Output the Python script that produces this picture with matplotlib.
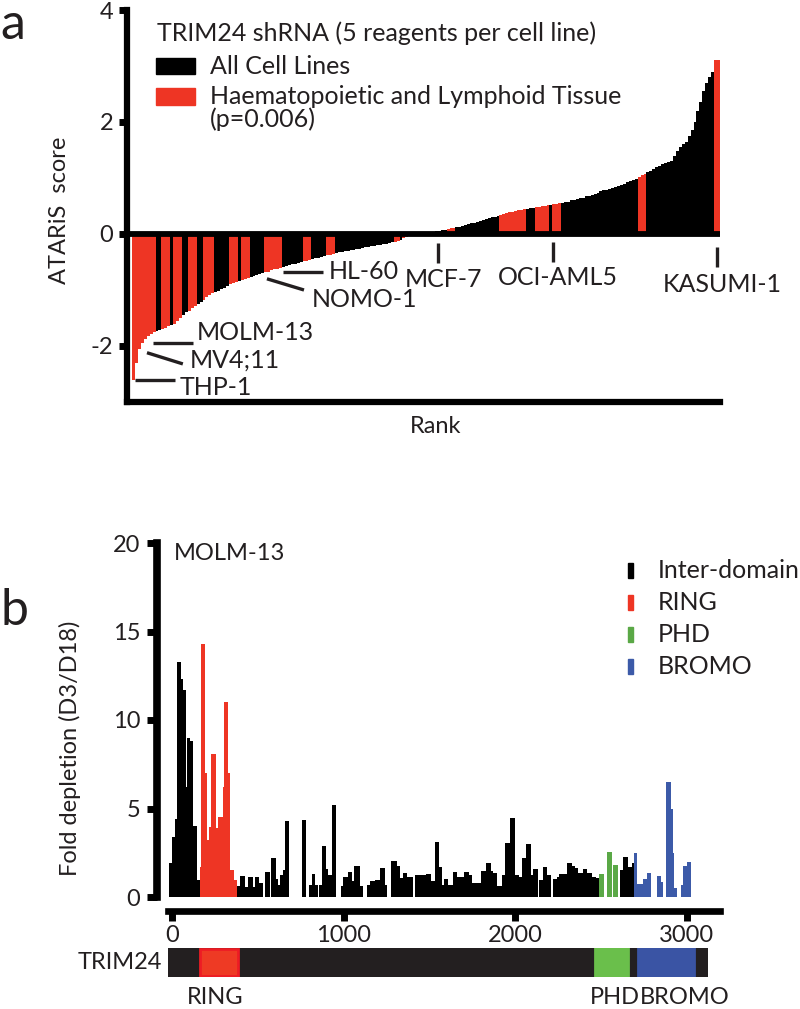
import numpy as np
import matplotlib.pyplot as plt
from matplotlib.patches import Rectangle

plt.rcParams['font.family'] = ['Lato', 'DejaVu Sans']
plt.rcParams['axes.unicode_minus'] = False

W, H = 800, 1009
TXT = '#231f20'
RED = '#ee3524'
GREEN = '#5aa846'
BLUE = '#3c5aa8'


def fx(px):
    return px / W


def fy(py):
    return 1 - py / H


# ---- panel a: ATARiS score of every cell line, in rank order ----
ataris_scores = [
    -2.6, -2.3, -2.05, -1.95, -1.87, -1.82, -1.78, -1.75, -1.73, -1.71,
    -1.69, -1.67, -1.65, -1.63, -1.6, -1.55, -1.5, -1.45, -1.4, -1.37,
    -1.33, -1.29, -1.25, -1.21, -1.17, -1.12, -1.09, -1.06, -1.03, -1.01,
    -0.99, -0.96, -0.93, -0.9, -0.88, -0.86, -0.84, -0.82, -0.8, -0.78,
    -0.77, -0.75, -0.73, -0.71, -0.7, -0.68, -0.67, -0.65, -0.63, -0.62,
    -0.6, -0.59, -0.57, -0.56, -0.54, -0.53, -0.52, -0.5, -0.49, -0.48,
    -0.46, -0.45, -0.43, -0.42, -0.41, -0.39, -0.38, -0.37, -0.35, -0.34,
    -0.33, -0.32, -0.31, -0.3, -0.29, -0.28, -0.27, -0.26, -0.25, -0.24,
    -0.23, -0.22, -0.21, -0.2, -0.19, -0.18, -0.17, -0.16, -0.15, -0.14,
    -0.12, -0.1, -0.08, -0.06, -0.04, -0.03, -0.02, -0.01, 0.0, 0.01,
    0.02, 0.03, 0.04, 0.05, 0.06, 0.07, 0.08, 0.09, 0.1, 0.11,
    0.12, 0.13, 0.14, 0.16, 0.17, 0.19, 0.2, 0.22, 0.23, 0.25,
    0.26, 0.28, 0.3, 0.31, 0.33, 0.34, 0.36, 0.37, 0.39, 0.4,
    0.41, 0.42, 0.43, 0.44, 0.45, 0.46, 0.47, 0.48, 0.49, 0.5,
    0.5, 0.51, 0.52, 0.53, 0.54, 0.55, 0.56, 0.57, 0.58, 0.6,
    0.61, 0.62, 0.64, 0.65, 0.67, 0.68, 0.7, 0.72, 0.74, 0.76,
    0.78, 0.79, 0.8, 0.82, 0.84, 0.86, 0.88, 0.9, 0.92, 0.94,
    0.96, 0.99, 1.02, 1.05, 1.08, 1.1, 1.13, 1.16, 1.19, 1.22,
    1.25, 1.26, 1.28, 1.3, 1.4, 1.48, 1.55, 1.6, 1.65, 1.75,
    1.85, 2.0, 2.2, 2.35, 2.55, 2.7, 2.8, 2.9, 3.1, 3.1,
]
# ranks of haematopoietic / lymphoid lines
heme_ranks = [0, 1, 2, 3, 4, 5, 6, 7, 10, 11, 12, 14, 15, 16, 19, 20, 21,
              24, 25, 26, 27, 33, 34, 35, 37, 38, 39, 45, 46, 47, 48, 49, 50,
              58, 59, 60, 66, 67, 68, 89, 90, 92, 93, 94, 107, 108, 109,
              125, 126, 127, 128, 129, 130, 131, 132, 133, 137, 138, 139, 140,
              141, 143, 144, 145, 172, 173, 174, 198, 199]
ticks_a = [-2, 0, 2, 4]

# ---- panel b: fold depletion along the TRIM24 transcript ----
inter_edges = [-15, 0, 18, 27, 51, 66, 81, 86, 106, 121, 145, 162, 380, 398,
               424, 442, 472, 482, 508, 532, 540, 570, 580, 606, 618, 630, 647,
               659, 684, 756, 780, 797, 814, 834, 854, 858, 873, 898, 912, 931,
               958, 983, 997, 1028, 1050, 1064, 1096, 1116, 1136, 1155, 1184,
               1213, 1242, 1254, 1278, 1310, 1330, 1349, 1370, 1403, 1416, 1446,
               1480, 1510, 1534, 1554, 1572, 1586, 1611, 1636, 1664, 1703, 1732,
               1747, 1800, 1829, 1862, 1874, 1897, 1922, 1942, 1971, 2000, 2025,
               2039, 2064, 2091, 2103, 2136, 2142, 2165, 2189, 2210, 2220, 2243,
               2258, 2305, 2330, 2350, 2369, 2395, 2422, 2447, 2472, 2492, 2612,
               2632, 2657, 2680, 2692]
inter_fold = [1.9, 3.4, 4.4, 13.3, 12.3, 11.7, 6.2, 9.0, 8.8, 4.0, 0.95, 0,
              0.6, 1.17, 0.57, 1.13, 0.57, 1.15, 0.8, 0, 1.42, 0, 2.2, 1.0, 0.65,
              1.22, 1.5, 4.3, 0, 4.35, 0, 0.68, 1.3, 0.68, 0, 0.65, 2.88, 1.6,
              1.25, 5.22, 0, 0.6, 1.15, 1.4, 0.93, 1.75, 0.6, 0, 0.7, 0.93, 0.97,
              1.63, 0.65, 0, 2.03, 1.73, 1.05, 1.35, 1.12, 0, 1.27, 1.23, 1.32,
              0.93, 3.12, 1.7, 0.7, 1.0, 0.68, 1.43, 1.15, 1.43, 1.24, 0.77,
              1.49, 1.9, 1.45, 1.38, 0.62, 1.24, 3.03, 4.44, 1.24, 1.11, 2.18,
              2.98, 1.24, 1.56, 0, 0.96, 1.68, 1.24, 0, 1.04, 1.15, 1.3, 1.94,
              1.75, 1.62, 1.34, 1.56, 1.34, 1.15, 1.05, 0, 1.53, 2.28, 1.71, 1.9]
ring_edges = [162, 167, 192, 204, 218, 227, 255, 270, 297, 305, 328, 340, 362, 380]
ring_fold = [1.7, 14.3, 7.0, 3.2, 3.95, 8.1, 3.9, 4.5, 6.2, 11.0, 7.0, 1.5, 0.95]
phd_edges = [2492, 2521, 2534, 2564, 2573, 2602]
phd_fold = [1.3, 0, 2.56, 0, 1.81]
bromo_edges = [2692, 2713, 2748, 2768, 2791, 2826, 2849, 2865, 2880, 2910,
               2923, 2929, 2943, 2966, 2981, 3001, 3026]
bromo_fold = [2.47, 0.73, 1.0, 1.34, 0, 1.2, 0.87, 0, 6.5, 5.0, 2.47, 0.49, 0,
              0.68, 1.75, 2.0]
ticks_b_y = [0, 5, 10, 15, 20]
ticks_b_x = [0, 1000, 2000, 3000]

# protein map (transcript coordinates)
trim24_span = (-23, 3125)
domain_names = ['RING', 'PHD', 'BROMO']
domain_start = [163, 2466, 2717]
domain_end = [385, 2659, 3044]
domain_fill = ['#ee3a24', '#6abf4b', '#3a54a4']

fig = plt.figure(figsize=(8, 10.09), dpi=100)

# ================= panel a =================
ax = fig.add_axes([fx(127), fy(402), (720 - 127) / W, (402 - 10) / H])
scores = np.array(ataris_scores)
rank_edges = np.arange(len(scores) + 1) - 0.5
heme_mask = np.isin(np.arange(len(scores)), heme_ranks)
ax.stairs(scores, rank_edges, fill=True, color='black', lw=0)
ax.stairs(np.where(heme_mask, scores, 0), rank_edges, fill=True, color=RED, lw=0)
ax.plot([-2.2, 199.5], [0, 0], color='black', lw=4.2, solid_capstyle='round', zorder=5)
ax.set_xlim(-2.2, 199.5)
ax.set_ylim(-3, 4)
ax.set_yticks(ticks_a)
ax.set_xticks([])
for s in ['top', 'right']:
    ax.spines[s].set_visible(False)
for s in ['left', 'bottom']:
    ax.spines[s].set_linewidth(4.5)
ax.tick_params(axis='y', length=6, width=5, pad=4, labelsize=17, labelcolor=TXT)
ax.set_ylabel('ATARiS  score', fontsize=17, color=TXT)
ax.yaxis.set_label_coords(-0.096, 0.49)
ax.set_xlabel('Rank', fontsize=17, color=TXT)
ax.xaxis.set_label_coords(0.52, -0.036)

# cell line call-outs (text placed on its baseline)
lw_ann = 2.4
for (x0, y0, x1, y1), (tx, ty, name) in [
        ((0.5, -2.61, 14.1, -2.61), (15.8, -2.88, 'THP-1')),
        ((4.6, -2.12, 16.8, -2.32), (19.2, -2.39, 'MV4;11')),
        ((6.6, -1.95, 20.2, -1.95), (21.6, -1.90, 'MOLM-13')),
        ((45.4, -0.80, 58.0, -1.0), (60.7, -1.30, 'NOMO-1')),
        ((50.9, -0.68, 64.5, -0.68), (66.5, -0.81, 'HL-60'))]:
    ax.plot([x0, x1], [y0, y1], color=TXT, lw=lw_ann, solid_capstyle='butt')
    ax.text(tx, ty, name, fontsize=18, color=TXT, ha='left', va='baseline')
for xl, (ytop, ybot), ty, name in [
        (103.6, (-0.16, -0.52), -0.95, 'MCF-7'),
        (142.7, (-0.14, -0.50), -0.91, 'OCI-AML5'),
        (198.5, (-0.23, -0.59), -1.04, 'KASUMI-1')]:
    ax.plot([xl, xl], [ytop, ybot], color=TXT, lw=lw_ann, solid_capstyle='butt')
    ax.text(xl + 1.7, ty, name, fontsize=18, color=TXT, ha='center', va='baseline')

# legend of panel a
fig.text(fx(157), fy(33), 'TRIM24 shRNA (5 reagents per cell line)', fontsize=18,
         color=TXT, va='center')
fig.add_artist(Rectangle((fx(156), fy(74)), 39 / W, 16 / H, color='black',
                         transform=fig.transFigure))
fig.add_artist(Rectangle((fx(156), fy(105)), 39 / W, 17 / H, color=RED,
                         transform=fig.transFigure))
fig.text(fx(210), fy(66), 'All Cell Lines', fontsize=18, color=TXT, va='center')
fig.text(fx(210), fy(96), 'Haematopoietic and Lymphoid Tissue', fontsize=18,
         color=TXT, va='center')
fig.text(fx(210), fy(119), '(p=0.006)', fontsize=18, color=TXT, va='center')

# ================= panel b =================
bx = fig.add_axes([fx(157), fy(897), (720 - 157) / W, (897 - 543) / H])
bx.stairs(inter_fold, inter_edges, fill=True, color='black', lw=0)
bx.stairs(ring_fold, ring_edges, fill=True, color=RED, lw=0)
bx.stairs(phd_fold, phd_edges, fill=True, color=GREEN, lw=0)
bx.stairs(bromo_fold, bromo_edges, fill=True, color=BLUE, lw=0)
xl_b = ((157 - 172) / 0.1715, (720 - 172) / 0.1715)
bx.set_xlim(*xl_b)
bx.set_ylim(0, 20)
bx.set_yticks(ticks_b_y)
bx.set_xticks(ticks_b_x)
for s in ['top', 'right']:
    bx.spines[s].set_visible(False)
bx.spines['left'].set_linewidth(5.5)
bx.spines['bottom'].set_linewidth(4.8)
bx.spines['left'].set_bounds(0, 20)
bx.spines['bottom'].set_bounds(trim24_span[0], xl_b[1])
bx.spines['bottom'].set_position(('outward', 10))
bx.tick_params(axis='y', length=7, width=5, pad=5, labelsize=17, labelcolor=TXT)
bx.tick_params(axis='x', length=7.5, width=5, pad=3, labelsize=17, labelcolor=TXT)
bx.set_ylabel('Fold depletion (D3/D18)', fontsize=17, color=TXT)
bx.yaxis.set_label_coords(-0.135, 0.42)
bx.text(0.03, 0.97, 'MOLM-13', transform=bx.transAxes, fontsize=17, color=TXT,
        ha='left', va='center')

# legend of panel b
for name, col, yc in [('Inter-domain', 'black', 570), ('RING', RED, 602),
                      ('PHD', GREEN, 634), ('BROMO', BLUE, 666)]:
    fig.add_artist(Rectangle((fx(628), fy(yc + 7.5)), 5 / W, 15 / H, color=col,
                             transform=fig.transFigure))
    fig.text(fx(658), fy(yc), name, fontsize=18, color=TXT, va='center')

# protein map
dx = fig.add_axes([fx(157), fy(977), (720 - 157) / W, 29 / H])
dx.set_xlim(*xl_b)
dx.set_ylim(0, 1)
dx.axis('off')
dx.barh(0.5, trim24_span[1] - trim24_span[0], left=trim24_span[0], height=1,
        color='#231f20')
for name, s, e, c in zip(domain_names, domain_start, domain_end, domain_fill):
    ec = '#ed1c24' if name == 'RING' else c
    dx.barh(0.5, e - s, left=s, height=0.9 if name == 'RING' else 1, color=c,
            edgecolor=ec, lw=2)
dx.text(trim24_span[0] - 35, 0.5, 'TRIM24', fontsize=17, color=TXT,
        ha='right', va='center')
dx.text((domain_start[0] + domain_end[0]) / 2 - 25, -0.72, 'RING', fontsize=17,
        color=TXT, ha='center', va='center')
dx.text(2728, -0.72, 'PHD', fontsize=17, color=TXT, ha='right', va='center')
dx.text(2728, -0.72, 'BROMO', fontsize=17, color=TXT, ha='left', va='center')

# panel letters
fig.text(fx(0), fy(39), 'a', fontsize=36, color=TXT, va='baseline')
fig.text(fx(0), fy(625), 'b', fontsize=36, color=TXT, va='baseline')

fig.savefig('out.png', dpi=100)
